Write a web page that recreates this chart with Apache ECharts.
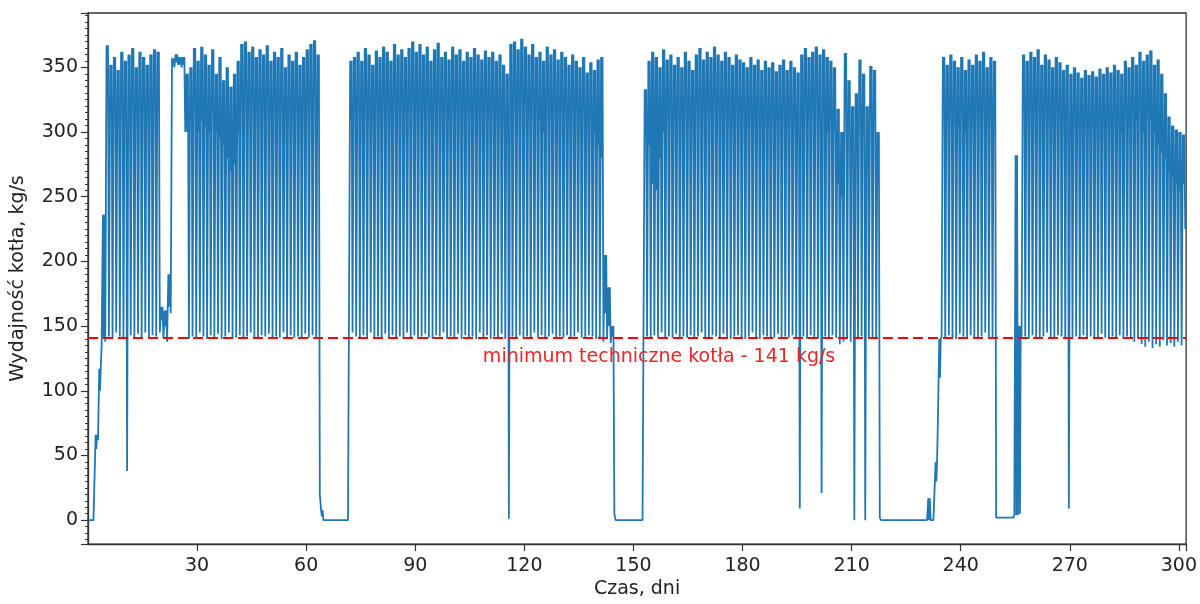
<!DOCTYPE html>
<html lang="pl">

<head>
    <meta charset="UTF-8">
    <title>Wydajność kotła</title>
    <script src="https://cdn.jsdelivr.net/npm/echarts@6/dist/echarts.min.js"></script>
    <style>
        html, body { margin: 0; padding: 0; background: #fff; }
        #main { width: 1200px; height: 604px; }
    </style>
</head>

<body>
    <div id="main"></div>

    <script>
        // daily values: peak, plateau dip, night trough (kg/s)
        var dayHigh = [
            0, 0, 66, 117, 236, 367, 352, 358, 348, 362,
            355, 360, 365, 350, 362, 358, 352, 360, 364, 362,
            165, 162, 190, 357, 360, 358, 358, 345, 350, 365,
            355, 366, 360, 352, 364, 345, 358, 340, 350, 335,
            345, 355, 368, 370, 362, 366, 358, 364, 360, 367,
            355, 362, 358, 365, 350, 360, 355, 362, 352, 358,
            364, 368, 371, 360, 8, 0, 0, 0, 0, 0,
            0, 0, 355, 358, 362, 355, 365, 360, 352, 363,
            358, 366, 362, 355, 368, 360, 364, 358, 365, 370,
            362, 368, 360, 366, 355, 364, 369, 358, 362, 356,
            366, 360, 364, 355, 362, 358, 365, 360, 356, 363,
            358, 362, 355, 360, 352, 345, 368, 370, 364, 372,
            366, 360, 368, 358, 362, 355, 366, 360, 364, 356,
            362, 358, 352, 360, 355, 350, 358, 346, 354, 348,
            356, 358, 205, 180, 150, 0, 0, 0, 0, 0,
            0, 0, 0, 333, 355, 362, 358, 350, 364, 356,
            360, 352, 358, 350, 362, 355, 348, 360, 365, 356,
            362, 358, 366, 360, 355, 362, 358, 352, 360, 356,
            354, 350, 358, 352, 356, 348, 355, 350, 354, 347,
            352, 356, 348, 355, 350, 346, 360, 365, 358, 362,
            366, 360, 364, 358, 355, 350, 318, 300, 361, 340,
            320, 330, 356, 345, 320, 351, 348, 300, 0, 0,
            0, 0, 0, 0, 0, 0, 0, 0, 0, 0,
            0, 17, 0, 45, 140, 358, 352, 360, 355, 350,
            358, 348, 356, 352, 360, 355, 362, 350, 358, 355,
            2, 2, 2, 2, 2, 282, 150, 360, 355, 362,
            358, 364, 352, 360, 356, 350, 358, 354, 348, 352,
            345, 350, 346, 342, 348, 344, 347, 343, 349, 345,
            350, 346, 352, 348, 345, 355, 350, 358, 352, 362,
            355, 360, 363, 352, 356, 345, 330, 312, 305, 302,
            300, 298
        ];

        var dayMid = [
            0, 0, 55, 100, 140, 330, 320, 325, 315, 330,
            328, 335, 338, 325, 335, 330, 328, 332, 335, 330,
            155, 150, 165, 352, 354, 352, 352, 300, 310, 320,
            300, 310, 305, 300, 315, 300, 295, 290, 280, 270,
            275, 300, 345, 348, 340, 345, 335, 342, 330, 340,
            330, 335, 320, 330, 315, 325, 320, 330, 318, 325,
            335, 340, 345, 320, 3, 0, 0, 0, 0, 0,
            0, 0, 310, 320, 330, 325, 335, 330, 320, 332,
            330, 335, 330, 325, 338, 330, 335, 328, 336, 340,
            332, 338, 330, 335, 328, 334, 340, 330, 333, 328,
            336, 330, 335, 327, 332, 330, 335, 328, 325, 332,
            328, 330, 325, 330, 320, 300, 335, 340, 335, 345,
            338, 330, 338, 320, 310, 300, 330, 325, 330, 320,
            328, 322, 318, 325, 320, 315, 322, 310, 318, 300,
            290, 280, 160, 150, 142, 0, 0, 0, 0, 0,
            0, 0, 0, 300, 290, 260, 255, 280, 300, 320,
            325, 318, 325, 315, 330, 322, 315, 328, 332, 325,
            330, 326, 335, 330, 325, 332, 328, 320, 330, 325,
            322, 318, 325, 320, 324, 316, 322, 318, 320, 315,
            318, 320, 315, 322, 318, 310, 330, 335, 328, 332,
            336, 330, 335, 300, 310, 300, 260, 250, 320, 305,
            300, 290, 320, 300, 280, 320, 310, 260, 0, 0,
            0, 0, 0, 0, 0, 0, 0, 0, 0, 0,
            0, 0, 0, 30, 110, 320, 310, 320, 315, 305,
            318, 300, 315, 310, 322, 315, 325, 312, 320, 315,
            2, 2, 2, 2, 2, 4, 5, 330, 325, 330,
            328, 334, 320, 330, 326, 320, 325, 320, 316, 320,
            318, 322, 320, 316, 320, 318, 320, 315, 322, 318,
            320, 318, 322, 315, 300, 315, 305, 318, 310, 320,
            300, 315, 310, 300, 290, 285, 280, 270, 265, 260,
            255, 260
        ];

        var dayLow = [
            0, 0, 62, 135, 138, 142, 140, 145, 142, 141,
            38, 143, 140, 144, 141, 145, 140, 143, 142, 145,
            140, 138, 160, 350, 352, 350, 300, 140, 142, 140,
            145, 142, 140, 143, 141, 144, 140, 142, 145, 140,
            141, 143, 140, 142, 145, 141, 140, 143, 142, 144,
            140, 142, 141, 145, 140, 143, 141, 142, 140, 144,
            141, 143, 140, 20, 0, 0, 0, 0, 0, 0,
            0, 0, 145, 142, 140, 143, 141, 145, 140, 142,
            141, 144, 140, 143, 141, 142, 140, 145, 141, 143,
            140, 142, 144, 141, 140, 143, 142, 145, 140, 142,
            141, 144, 140, 143, 141, 142, 140, 145, 141, 143,
            140, 142, 141, 144, 140, 1, 142, 140, 143, 141,
            142, 140, 145, 141, 143, 140, 142, 144, 140, 142,
            141, 143, 140, 142, 145, 141, 140, 143, 142, 140,
            141, 138, 140, 137, 5, 0, 0, 0, 0, 0,
            0, 0, 0, 142, 140, 143, 141, 145, 140, 142,
            141, 144, 140, 142, 141, 143, 140, 142, 145, 141,
            140, 143, 142, 140, 144, 141, 140, 142, 143, 141,
            140, 142, 145, 141, 140, 143, 142, 140, 141, 144,
            140, 142, 141, 143, 140, 9, 142, 140, 143, 141,
            140, 21, 142, 140, 143, 141, 136, 138, 140, 138,
            0, 140, 142, 0, 140, 141, 140, 2, 0, 0,
            0, 0, 0, 0, 0, 0, 0, 0, 0, 0,
            0, 0, 0, 80, 142, 140, 143, 141, 140, 144,
            142, 140, 143, 141, 140, 142, 145, 141, 140, 2,
            2, 2, 2, 2, 4, 4, 140, 142, 140, 143,
            141, 140, 142, 145, 141, 140, 143, 142, 140, 9,
            140, 142, 141, 143, 140, 142, 141, 140, 144, 141,
            140, 142, 141, 143, 140, 142, 141, 138, 140, 136,
            134, 138, 133, 136, 134, 139, 135, 137, 134, 138,
            135, 225
        ];

        var minTechniczne = 141;
        var xTicks = [30, 60, 90, 120, 150, 180, 210, 240, 270, 300];

        // where inside each day the samples sit (fraction of a day)
        var dayShape = [0.1, 0.3, 0.5, 0.75];

        var seriesData = [];
        for (var d = 0; d < dayHigh.length; d++) {
            seriesData.push([d + dayShape[0], dayHigh[d]]);
            seriesData.push([d + dayShape[1], dayMid[d]]);
            seriesData.push([d + dayShape[2], dayHigh[d]]);
            seriesData.push([d + dayShape[3], dayLow[d]]);
        }

        var chartDom = document.getElementById('main');
        var myChart = echarts.init(chartDom);
        var font = 'DejaVu Sans';
        var option;

        option = {
            animation: false,
            grid: {
                left: 88,
                right: 12,
                top: 13,
                bottom: 55,
                show: true,
                borderColor: '#333',
                borderWidth: 1.3,
                backgroundColor: '#fff'
            },
            xAxis: {
                type: 'value',
                min: 0,
                max: 302,
                interval: 30,
                name: 'Czas, dni',
                nameLocation: 'middle',
                nameGap: 33,
                nameTextStyle: { fontFamily: font, fontSize: 19, color: '#222' },
                axisLine: { show: true, onZero: false, lineStyle: { color: '#333', width: 1.3 } },
                axisTick: { show: true, length: 7, lineStyle: { color: '#333', width: 1.2 } },
                axisLabel: {
                    fontFamily: font, fontSize: 19, color: '#222', margin: 12,
                    showMinLabel: false,
                    formatter: function (v) { return xTicks.indexOf(v) >= 0 ? String(v) : ''; }
                },
                splitLine: { show: false }
            },
            yAxis: {
                type: 'value',
                min: -18.5,
                max: 392,
                splitNumber: 8,
                name: 'Wydajność kotła, kg/s',
                nameLocation: 'middle',
                nameGap: 60,
                nameTextStyle: { fontFamily: font, fontSize: 19, color: '#222' },
                axisLine: { show: true, lineStyle: { color: '#333', width: 1.3 } },
                axisTick: { show: true, length: 7, lineStyle: { color: '#333', width: 1.2 } },
                minorTick: { show: true, splitNumber: 10, length: 3, lineStyle: { color: '#333', width: 1 } },
                axisLabel: {
                    fontFamily: font, fontSize: 19, color: '#222', margin: 10,
                    showMinLabel: false,
                    showMaxLabel: false
                },
                splitLine: { show: false }
            },
            series: [
                {
                    type: 'line',
                    data: seriesData,
                    showSymbol: false,
                    symbol: 'none',
                    sampling: null,
                    lineStyle: { color: '#1f77b4', width: 1.8, join: 'bevel' },
                    itemStyle: { color: '#1f77b4' },
                    markLine: {
                        silent: true,
                        symbol: 'none',
                        animation: false,
                        data: [{ yAxis: minTechniczne }],
                        lineStyle: { color: '#ff0000', type: [10, 5], width: 2 },
                        label: {
                            show: true,
                            position: 'insideMiddleBottom',
                            formatter: 'minimum techniczne kotła - ' + minTechniczne + ' kg/s',
                            fontFamily: font,
                            fontSize: 19,
                            color: '#e8262b',
                            distance: 10,
                            padding: [0, 0, 0, 44]
                        }
                    }
                }
            ]
        };

        option && myChart.setOption(option);
    </script>

</body>

</html>
